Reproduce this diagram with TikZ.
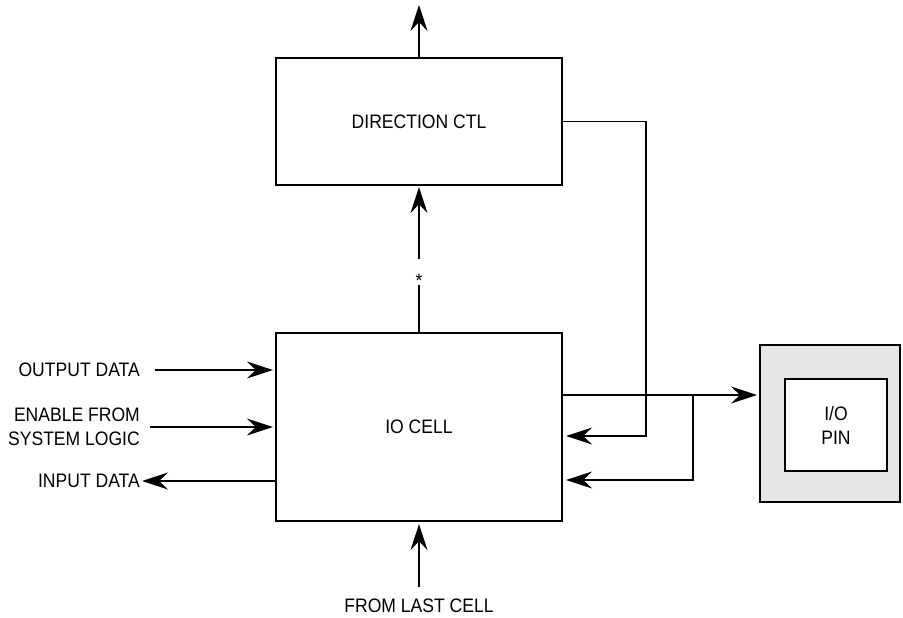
\documentclass[tikz,border=0pt]{standalone}
\usepackage{fontspec}
\setmainfont{Liberation Sans}[FakeStretch=0.9]
\usetikzlibrary{arrows.meta}
\definecolor{pingray}{HTML}{E6E6E6}
\begin{document}
\begin{tikzpicture}[x=1pt,y=-1pt,
  blk/.style={draw, line width=2.3pt, inner sep=0pt, font=\fontsize{19.5}{24}\selectfont},
  wire/.style={line width=1.1pt},
  arr/.style={wire, -{Stealth[length=26pt,width=17pt,inset=9pt]}},
  lbl/.style={font=\fontsize{19.5}{24}\selectfont, inner sep=0pt}]
\useasboundingbox (0,0) rectangle (903,618);
% blocks
\node[blk, minimum width=286pt, minimum height=127pt] (dir) at (419,121.5) {DIRECTION CTL};
\node[blk, minimum width=286pt, minimum height=188pt] (io) at (419,427) {IO CELL};
\node[draw, line width=2pt, fill=pingray, minimum width=140pt, minimum height=157pt] (pinout) at (830,423.5) {};
\node[blk, line width=2pt, fill=white, minimum width=102pt, minimum height=92pt, align=center] (pin) at (836,425) {I/O\\PIN};
% top output
\coordinate (top) at (419,5);
\draw[arr] (dir.north) -- (top);
% io -> direction with star
\node[lbl, anchor=base] (star) at (419,287) {*};
\coordinate (g1) at (419,285);
\coordinate (g2) at (419,259);
\draw[wire] (io.north) -- (g1);
\draw[arr, shorten >=1pt] (g2) -- (dir.south);
% left side signals
\node[lbl, anchor=east] (od) at (140,370) {OUTPUT DATA};
\draw[arr, shorten >=2pt] ([xshift=15pt]od.east) -- (od.east -| io.west);
\node[lbl, anchor=east, align=right] (en) at (140,427) {ENABLE FROM\\SYSTEM LOGIC};
\draw[arr, shorten >=2pt] ([xshift=10pt]en.east) -- (en.east -| io.west);
\node[lbl, anchor=east] (id) at (140,481) {INPUT DATA};
\draw[arr] (id.east -| io.west) -- ([xshift=2pt]id.east);
% from last cell
\node[lbl] (flc) at (419,606) {FROM LAST CELL};
\draw[arr, shorten >=2pt] ([yshift=12pt]flc.north) -- (io.south);
% right side wiring
\coordinate (k1) at (646,436);
\draw[arr, shorten >=3pt] (dir.east) -| (k1) -- (k1 -| io.east);
\coordinate (o1) at (0,395);
\draw[arr, shorten >=2pt] (o1 -| io.east) -- (o1 -| pinout.west);
\coordinate (b1) at (693,395);
\coordinate (b2) at (693,480);
\draw[arr, shorten >=3pt] (b1) -- (b2) -- (b2 -| io.east);
\end{tikzpicture}
\end{document}
